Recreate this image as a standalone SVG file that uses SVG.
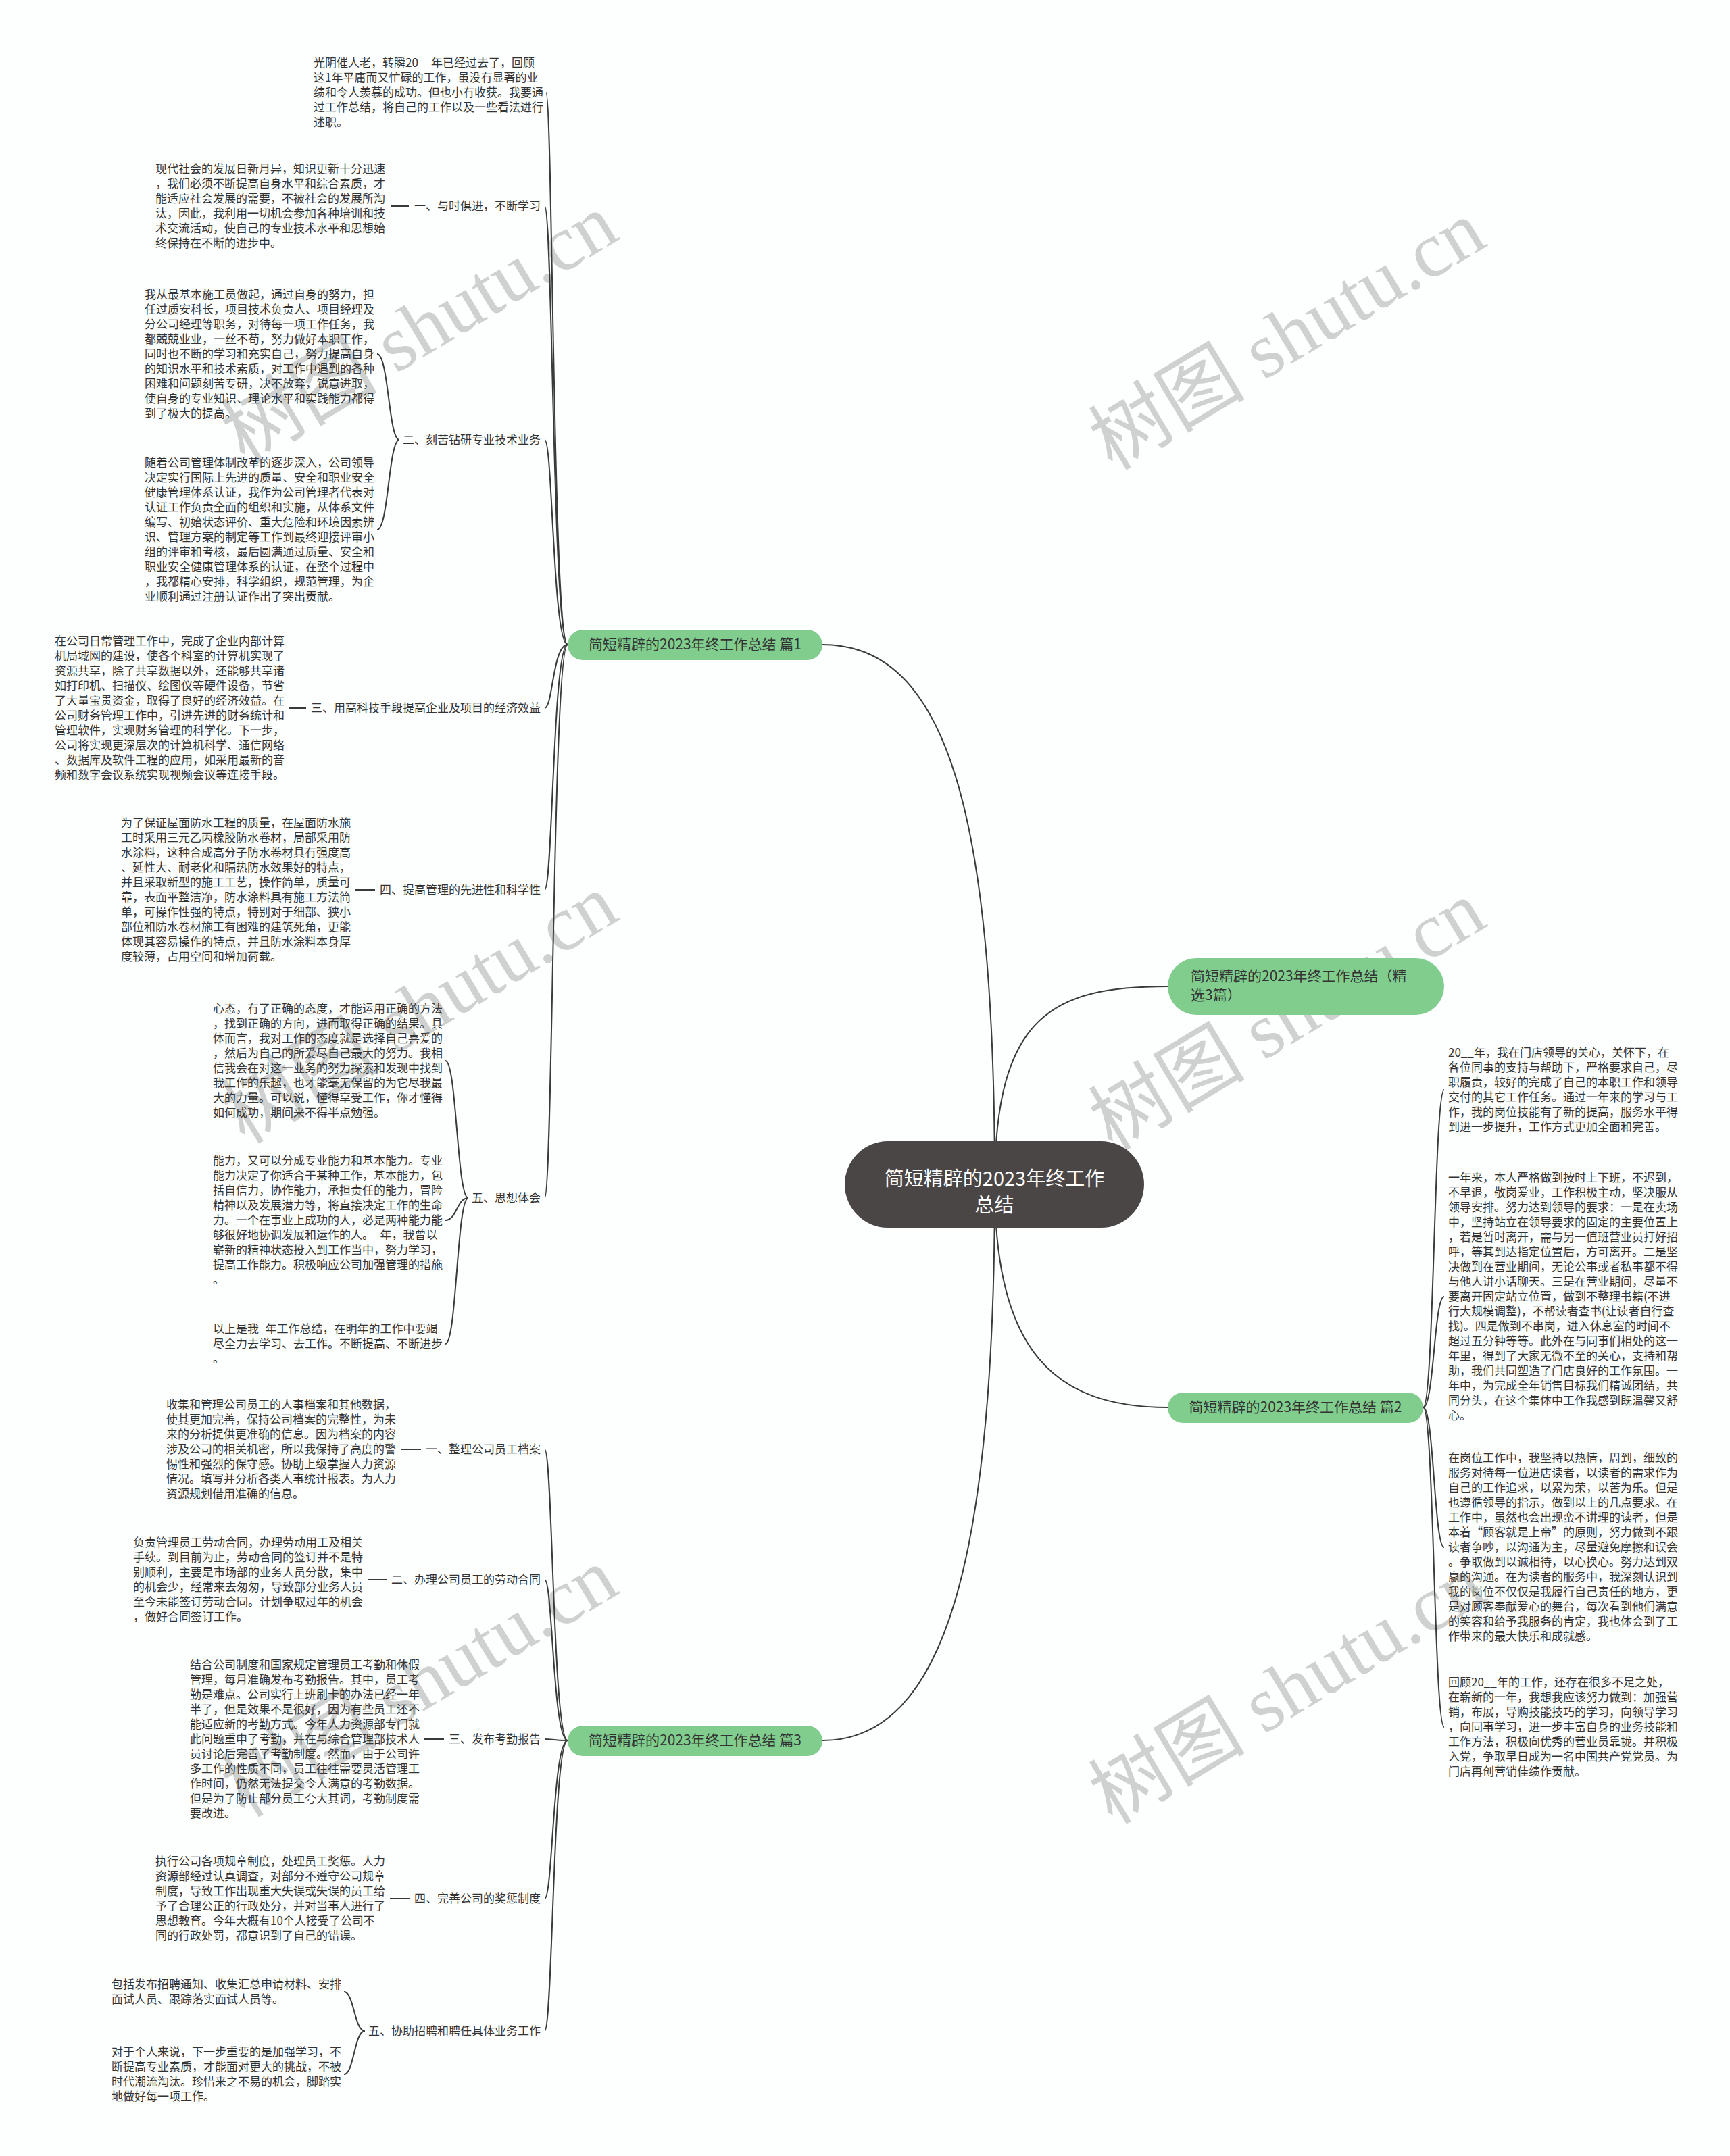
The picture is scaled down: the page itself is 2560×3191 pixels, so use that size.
<svg xmlns="http://www.w3.org/2000/svg" width="2560" height="3191" viewBox="0 0 2560 3191">
<style>
.t{font-family:"Noto Sans CJK SC","Noto Sans",sans-serif;font-size:17px;fill:#333}
.lb{font-family:"Noto Sans CJK SC","Noto Sans",sans-serif;font-size:17px;fill:#333;text-anchor:end}
.bt{font-family:"Noto Sans CJK SC","Noto Sans",sans-serif;font-size:21px;fill:#333}
.ct{font-family:"Noto Sans CJK SC","Noto Sans",sans-serif;font-size:29px;fill:#fff;text-anchor:middle}
.ln{fill:none;stroke:#3a3a3a;stroke-width:2}
.bn{fill:#80cd8e}
.wm{font-family:"Liberation Serif","Noto Sans CJK SC",serif;font-size:116px;fill:#cfd1d1;text-anchor:middle}
</style>
<rect width="2560" height="3191" fill="#fdfefe"/>
<g id="watermarks">
<text class="wm" transform="translate(641,520) rotate(-31)">树图 shutu.cn</text>
<text class="wm" transform="translate(1925,530) rotate(-31)">树图 shutu.cn</text>
<text class="wm" transform="translate(641,1527) rotate(-31)">树图 shutu.cn</text>
<text class="wm" transform="translate(1925,1537) rotate(-31)">树图 shutu.cn</text>
<text class="wm" transform="translate(641,2524) rotate(-31)">树图 shutu.cn</text>
<text class="wm" transform="translate(1925,2534) rotate(-31)">树图 shutu.cn</text>
</g>
<g id="connectors">
<path class="ln" d="M1472 1753 C1472 1200 1400 954 1217 954"/>
<path class="ln" d="M1472 1753 C1472 2300 1400 2576 1217 2576"/>
<path class="ln" d="M1472 1753 C1472 1500 1560 1460 1728 1460"/>
<path class="ln" d="M1472 1753 C1472 2000 1560 2083 1728 2083"/>
<path class="ln" d="M840 954 C818 954 818 137 808 137"/>
<path class="ln" d="M840 954 C818 954 818 305 806 305"/>
<path class="ln" d="M840 954 C818 954 818 651 806 651"/>
<path class="ln" d="M840 954 C818 954 818 1048 806 1048"/>
<path class="ln" d="M840 954 C818 954 818 1317 806 1317"/>
<path class="ln" d="M840 954 C818 954 818 1773 806 1773"/>
<path class="ln" d="M578 305 L605 305"/>
<path class="ln" d="M591 651 C575 651 575 524 558 524"/>
<path class="ln" d="M591 651 C575 651 575 784 558 784"/>
<path class="ln" d="M428 1048 L453 1048"/>
<path class="ln" d="M526 1317 L555 1317"/>
<path class="ln" d="M693 1773 C676 1773 676 1570 659 1570"/>
<path class="ln" d="M693 1773 C676 1773 676 1806 659 1806"/>
<path class="ln" d="M693 1773 C676 1773 676 1989 659 1989"/>
<path class="ln" d="M840 2576 C818 2576 818 2145 806 2145"/>
<path class="ln" d="M840 2576 C818 2576 818 2338 806 2338"/>
<path class="ln" d="M840 2576 C818 2576 818 2574 806 2574"/>
<path class="ln" d="M840 2576 C818 2576 818 2810 806 2810"/>
<path class="ln" d="M840 2576 C818 2576 818 3006 806 3006"/>
<path class="ln" d="M593 2145 L623 2145"/>
<path class="ln" d="M544 2338 L572 2338"/>
<path class="ln" d="M628 2574 L657 2574"/>
<path class="ln" d="M577 2810 L606 2810"/>
<path class="ln" d="M540 3006 C524 3006 524 2948 509 2948"/>
<path class="ln" d="M540 3006 C524 3006 524 3070 509 3070"/>
<path class="ln" d="M2106 2083 C2122 2083 2122 1613 2137 1613"/>
<path class="ln" d="M2106 2083 C2122 2083 2122 1919 2137 1919"/>
<path class="ln" d="M2106 2083 C2122 2083 2122 2290 2137 2290"/>
<path class="ln" d="M2106 2083 C2122 2083 2122 2556 2137 2556"/>
</g>
<g id="center">
<rect x="1250" y="1689" width="443" height="128" rx="64" fill="#4b4646"/>
<text class="ct" x="1471.5" y="1755">简短精辟的2023年终工作</text>
<text class="ct" x="1471.5" y="1794">总结</text>
</g>
<g id="b1">
<rect class="bn" x="840" y="932" width="377" height="45" rx="22.5"/>
<text class="bt" x="1028.5" y="961" text-anchor="middle">简短精辟的2023年终工作总结 篇1</text>
</g>
<g id="b0">
<rect class="bn" x="1728" y="1418" width="409" height="84" rx="42"/>
<text class="bt" x="1762" y="1452">简短精辟的2023年终工作总结（精</text>
<text class="bt" x="1762" y="1480">选3篇）</text>
</g>
<g id="b2">
<rect class="bn" x="1728" y="2061" width="378" height="45" rx="22.5"/>
<text class="bt" x="1917" y="2090" text-anchor="middle">简短精辟的2023年终工作总结 篇2</text>
</g>
<g id="b3">
<rect class="bn" x="840" y="2554" width="377" height="45" rx="22.5"/>
<text class="bt" x="1028.5" y="2583" text-anchor="middle">简短精辟的2023年终工作总结 篇3</text>
</g>
<g id="p1a"><text class="t" x="464" y="99"><tspan x="464">光阴催人老，转瞬20__年已经过去了，回顾</tspan><tspan x="464" dy="22">这1年平庸而又忙碌的工作，虽没有显著的业</tspan><tspan x="464" dy="22">绩和令人羡慕的成功。但也小有收获。我要通</tspan><tspan x="464" dy="22">过工作总结，将自己的工作以及一些看法进行</tspan><tspan x="464" dy="22">述职。</tspan></text></g>
<g id="p1l1"><text class="lb" x="800" y="311">一、与时俱进，不断学习</text></g>
<g id="p1b"><text class="t" x="230" y="256"><tspan x="230">现代社会的发展日新月异，知识更新十分迅速</tspan><tspan x="230" dy="22">，我们必须不断提高自身水平和综合素质，才</tspan><tspan x="230" dy="22">能适应社会发展的需要，不被社会的发展所淘</tspan><tspan x="230" dy="22">汰，因此，我利用一切机会参加各种培训和技</tspan><tspan x="230" dy="22">术交流活动，使自己的专业技术水平和思想始</tspan><tspan x="230" dy="22">终保持在不断的进步中。</tspan></text></g>
<g id="p1l2"><text class="lb" x="800" y="657">二、刻苦钻研专业技术业务</text></g>
<g id="p1c1"><text class="t" x="214" y="442"><tspan x="214">我从最基本施工员做起，通过自身的努力，担</tspan><tspan x="214" dy="22">任过质安科长，项目技术负责人、项目经理及</tspan><tspan x="214" dy="22">分公司经理等职务，对待每一项工作任务，我</tspan><tspan x="214" dy="22">都兢兢业业，一丝不苟，努力做好本职工作，</tspan><tspan x="214" dy="22">同时也不断的学习和充实自己，努力提高自身</tspan><tspan x="214" dy="22">的知识水平和技术素质，对工作中遇到的各种</tspan><tspan x="214" dy="22">困难和问题刻苦专研，决不放弃，锐意进取，</tspan><tspan x="214" dy="22">使自身的专业知识、理论水平和实践能力都得</tspan><tspan x="214" dy="22">到了极大的提高。</tspan></text></g>
<g id="p1c2"><text class="t" x="214" y="691"><tspan x="214">随着公司管理体制改革的逐步深入，公司领导</tspan><tspan x="214" dy="22">决定实行国际上先进的质量、安全和职业安全</tspan><tspan x="214" dy="22">健康管理体系认证，我作为公司管理者代表对</tspan><tspan x="214" dy="22">认证工作负责全面的组织和实施，从体系文件</tspan><tspan x="214" dy="22">编写、初始状态评价、重大危险和环境因素辨</tspan><tspan x="214" dy="22">识、管理方案的制定等工作到最终迎接评审小</tspan><tspan x="214" dy="22">组的评审和考核，最后圆满通过质量、安全和</tspan><tspan x="214" dy="22">职业安全健康管理体系的认证，在整个过程中</tspan><tspan x="214" dy="22">，我都精心安排，科学组织，规范管理，为企</tspan><tspan x="214" dy="22">业顺利通过注册认证作出了突出贡献。</tspan></text></g>
<g id="p1l3"><text class="lb" x="800" y="1054">三、用高科技手段提高企业及项目的经济效益</text></g>
<g id="p1d"><text class="t" x="81" y="955"><tspan x="81">在公司日常管理工作中，完成了企业内部计算</tspan><tspan x="81" dy="22">机局域网的建设，使各个科室的计算机实现了</tspan><tspan x="81" dy="22">资源共享，除了共享数据以外，还能够共享诸</tspan><tspan x="81" dy="22">如打印机、扫描仪、绘图仪等硬件设备，节省</tspan><tspan x="81" dy="22">了大量宝贵资金，取得了良好的经济效益。在</tspan><tspan x="81" dy="22">公司财务管理工作中，引进先进的财务统计和</tspan><tspan x="81" dy="22">管理软件，实现财务管理的科学化。下一步，</tspan><tspan x="81" dy="22">公司将实现更深层次的计算机科学、通信网络</tspan><tspan x="81" dy="22">、数据库及软件工程的应用，如采用最新的音</tspan><tspan x="81" dy="22">频和数字会议系统实现视频会议等连接手段。</tspan></text></g>
<g id="p1l4"><text class="lb" x="800" y="1323">四、提高管理的先进性和科学性</text></g>
<g id="p1e"><text class="t" x="179" y="1224"><tspan x="179">为了保证屋面防水工程的质量，在屋面防水施</tspan><tspan x="179" dy="22">工时采用三元乙丙橡胶防水卷材，局部采用防</tspan><tspan x="179" dy="22">水涂料，这种合成高分子防水卷材具有强度高</tspan><tspan x="179" dy="22">、延性大、耐老化和隔热防水效果好的特点，</tspan><tspan x="179" dy="22">并且采取新型的施工工艺，操作简单，质量可</tspan><tspan x="179" dy="22">靠，表面平整洁净，防水涂料具有施工方法简</tspan><tspan x="179" dy="22">单，可操作性强的特点，特别对于细部、狭小</tspan><tspan x="179" dy="22">部位和防水卷材施工有困难的建筑死角，更能</tspan><tspan x="179" dy="22">体现其容易操作的特点，并且防水涂料本身厚</tspan><tspan x="179" dy="22">度较薄，占用空间和增加荷载。</tspan></text></g>
<g id="p1l5"><text class="lb" x="800" y="1779">五、思想体会</text></g>
<g id="p1f1"><text class="t" x="315" y="1499"><tspan x="315">心态，有了正确的态度，才能运用正确的方法</tspan><tspan x="315" dy="22">，找到正确的方向，进而取得正确的结果。具</tspan><tspan x="315" dy="22">体而言，我对工作的态度就是选择自己喜爱的</tspan><tspan x="315" dy="22">，然后为自己的所爱尽自己最大的努力。我相</tspan><tspan x="315" dy="22">信我会在对这一业务的努力探索和发现中找到</tspan><tspan x="315" dy="22">我工作的乐趣，也才能毫无保留的为它尽我最</tspan><tspan x="315" dy="22">大的力量。可以说，懂得享受工作，你才懂得</tspan><tspan x="315" dy="22">如何成功，期间来不得半点勉强。</tspan></text></g>
<g id="p1f2"><text class="t" x="315" y="1724"><tspan x="315">能力，又可以分成专业能力和基本能力。专业</tspan><tspan x="315" dy="22">能力决定了你适合于某种工作，基本能力，包</tspan><tspan x="315" dy="22">括自信力，协作能力，承担责任的能力，冒险</tspan><tspan x="315" dy="22">精神以及发展潜力等，将直接决定工作的生命</tspan><tspan x="315" dy="22">力。一个在事业上成功的人，必是两种能力能</tspan><tspan x="315" dy="22">够很好地协调发展和运作的人。_年，我曾以</tspan><tspan x="315" dy="22">崭新的精神状态投入到工作当中，努力学习，</tspan><tspan x="315" dy="22">提高工作能力。积极响应公司加强管理的措施</tspan><tspan x="315" dy="22">。</tspan></text></g>
<g id="p1f3"><text class="t" x="315" y="1973"><tspan x="315">以上是我_年工作总结，在明年的工作中要竭</tspan><tspan x="315" dy="22">尽全力去学习、去工作。不断提高、不断进步</tspan><tspan x="315" dy="22">。</tspan></text></g>
<g id="p3l1"><text class="lb" x="800" y="2151">一、整理公司员工档案</text></g>
<g id="p3g"><text class="t" x="246" y="2085"><tspan x="246">收集和管理公司员工的人事档案和其他数据，</tspan><tspan x="246" dy="22">使其更加完善，保持公司档案的完整性，为未</tspan><tspan x="246" dy="22">来的分析提供更准确的信息。因为档案的内容</tspan><tspan x="246" dy="22">涉及公司的相关机密，所以我保持了高度的警</tspan><tspan x="246" dy="22">惕性和强烈的保守感。协助上级掌握人力资源</tspan><tspan x="246" dy="22">情况。填写并分析各类人事统计报表。为人力</tspan><tspan x="246" dy="22">资源规划借用准确的信息。</tspan></text></g>
<g id="p3l2"><text class="lb" x="800" y="2344">二、办理公司员工的劳动合同</text></g>
<g id="p3h"><text class="t" x="197" y="2289"><tspan x="197">负责管理员工劳动合同，办理劳动用工及相关</tspan><tspan x="197" dy="22">手续。到目前为止，劳动合同的签订并不是特</tspan><tspan x="197" dy="22">别顺利，主要是市场部的业务人员分散，集中</tspan><tspan x="197" dy="22">的机会少，经常来去匆匆，导致部分业务人员</tspan><tspan x="197" dy="22">至今未能签订劳动合同。计划争取过年的机会</tspan><tspan x="197" dy="22">，做好合同签订工作。</tspan></text></g>
<g id="p3l3"><text class="lb" x="800" y="2580">三、发布考勤报告</text></g>
<g id="p3i"><text class="t" x="281" y="2470"><tspan x="281">结合公司制度和国家规定管理员工考勤和休假</tspan><tspan x="281" dy="22">管理，每月准确发布考勤报告。其中，员工考</tspan><tspan x="281" dy="22">勤是难点。公司实行上班刷卡的办法已经一年</tspan><tspan x="281" dy="22">半了，但是效果不是很好，因为有些员工还不</tspan><tspan x="281" dy="22">能适应新的考勤方式。今年人力资源部专门就</tspan><tspan x="281" dy="22">此问题重申了考勤，并在与综合管理部技术人</tspan><tspan x="281" dy="22">员讨论后完善了考勤制度。然而，由于公司许</tspan><tspan x="281" dy="22">多工作的性质不同，员工往往需要灵活管理工</tspan><tspan x="281" dy="22">作时间，仍然无法提交令人满意的考勤数据。</tspan><tspan x="281" dy="22">但是为了防止部分员工夸大其词，考勤制度需</tspan><tspan x="281" dy="22">要改进。</tspan></text></g>
<g id="p3l4"><text class="lb" x="800" y="2816">四、完善公司的奖惩制度</text></g>
<g id="p3j"><text class="t" x="230" y="2761"><tspan x="230">执行公司各项规章制度，处理员工奖惩。人力</tspan><tspan x="230" dy="22">资源部经过认真调查，对部分不遵守公司规章</tspan><tspan x="230" dy="22">制度，导致工作出现重大失误或失误的员工给</tspan><tspan x="230" dy="22">予了合理公正的行政处分，并对当事人进行了</tspan><tspan x="230" dy="22">思想教育。今年大概有10个人接受了公司不</tspan><tspan x="230" dy="22">同的行政处罚，都意识到了自己的错误。</tspan></text></g>
<g id="p3l5"><text class="lb" x="800" y="3012">五、协助招聘和聘任具体业务工作</text></g>
<g id="p3k1"><text class="t" x="165" y="2943"><tspan x="165">包括发布招聘通知、收集汇总申请材料、安排</tspan><tspan x="165" dy="22">面试人员、跟踪落实面试人员等。</tspan></text></g>
<g id="p3k2"><text class="t" x="165" y="3043"><tspan x="165">对于个人来说，下一步重要的是加强学习，不</tspan><tspan x="165" dy="22">断提高专业素质，才能面对更大的挑战，不被</tspan><tspan x="165" dy="22">时代潮流淘汰。珍惜来之不易的机会，脚踏实</tspan><tspan x="165" dy="22">地做好每一项工作。</tspan></text></g>
<g id="p2r1"><text class="t" x="2143" y="1564"><tspan x="2143">20__年，我在门店领导的关心，关怀下，在</tspan><tspan x="2143" dy="22">各位同事的支持与帮助下，严格要求自己，尽</tspan><tspan x="2143" dy="22">职履责，较好的完成了自己的本职工作和领导</tspan><tspan x="2143" dy="22">交付的其它工作任务。通过一年来的学习与工</tspan><tspan x="2143" dy="22">作，我的岗位技能有了新的提高，服务水平得</tspan><tspan x="2143" dy="22">到进一步提升，工作方式更加全面和完善。</tspan></text></g>
<g id="p2r2"><text class="t" x="2143" y="1749"><tspan x="2143">一年来，本人严格做到按时上下班，不迟到，</tspan><tspan x="2143" dy="22">不早退，敬岗爱业，工作积极主动，坚决服从</tspan><tspan x="2143" dy="22">领导安排。努力达到领导的要求：一是在卖场</tspan><tspan x="2143" dy="22">中，坚持站立在领导要求的固定的主要位置上</tspan><tspan x="2143" dy="22">，若是暂时离开，需与另一值班营业员打好招</tspan><tspan x="2143" dy="22">呼，等其到达指定位置后，方可离开。二是坚</tspan><tspan x="2143" dy="22">决做到在营业期间，无论公事或者私事都不得</tspan><tspan x="2143" dy="22">与他人讲小话聊天。三是在营业期间，尽量不</tspan><tspan x="2143" dy="22">要离开固定站立位置，做到不整理书籍(不进</tspan><tspan x="2143" dy="22">行大规模调整)，不帮读者查书(让读者自行查</tspan><tspan x="2143" dy="22">找)。四是做到不串岗，进入休息室的时间不</tspan><tspan x="2143" dy="22">超过五分钟等等。此外在与同事们相处的这一</tspan><tspan x="2143" dy="22">年里，得到了大家无微不至的关心，支持和帮</tspan><tspan x="2143" dy="22">助，我们共同塑造了门店良好的工作氛围。一</tspan><tspan x="2143" dy="22">年中，为完成全年销售目标我们精诚团结，共</tspan><tspan x="2143" dy="22">同分头，在这个集体中工作我感到既温馨又舒</tspan><tspan x="2143" dy="22">心。</tspan></text></g>
<g id="p2r3"><text class="t" x="2143" y="2164"><tspan x="2143">在岗位工作中，我坚持以热情，周到，细致的</tspan><tspan x="2143" dy="22">服务对待每一位进店读者，以读者的需求作为</tspan><tspan x="2143" dy="22">自己的工作追求，以累为荣，以苦为乐。但是</tspan><tspan x="2143" dy="22">也遵循领导的指示，做到以上的几点要求。在</tspan><tspan x="2143" dy="22">工作中，虽然也会出现蛮不讲理的读者，但是</tspan><tspan x="2143" dy="22">本着“顾客就是上帝”的原则，努力做到不跟</tspan><tspan x="2143" dy="22">读者争吵，以沟通为主，尽量避免摩擦和误会</tspan><tspan x="2143" dy="22">。争取做到以诚相待，以心换心。努力达到双</tspan><tspan x="2143" dy="22">赢的沟通。在为读者的服务中，我深刻认识到</tspan><tspan x="2143" dy="22">我的岗位不仅仅是我履行自己责任的地方，更</tspan><tspan x="2143" dy="22">是对顾客奉献爱心的舞台，每次看到他们满意</tspan><tspan x="2143" dy="22">的笑容和给予我服务的肯定，我也体会到了工</tspan><tspan x="2143" dy="22">作带来的最大快乐和成就感。</tspan></text></g>
<g id="p2r4"><text class="t" x="2143" y="2496"><tspan x="2143">回顾20__年的工作，还存在很多不足之处，</tspan><tspan x="2143" dy="22">在崭新的一年，我想我应该努力做到：加强营</tspan><tspan x="2143" dy="22">销，布展，导购技能技巧的学习，向领导学习</tspan><tspan x="2143" dy="22">，向同事学习，进一步丰富自身的业务技能和</tspan><tspan x="2143" dy="22">工作方法，积极向优秀的营业员靠拢。并积极</tspan><tspan x="2143" dy="22">入党，争取早日成为一名中国共产党党员。为</tspan><tspan x="2143" dy="22">门店再创营销佳绩作贡献。</tspan></text></g>
</svg>
